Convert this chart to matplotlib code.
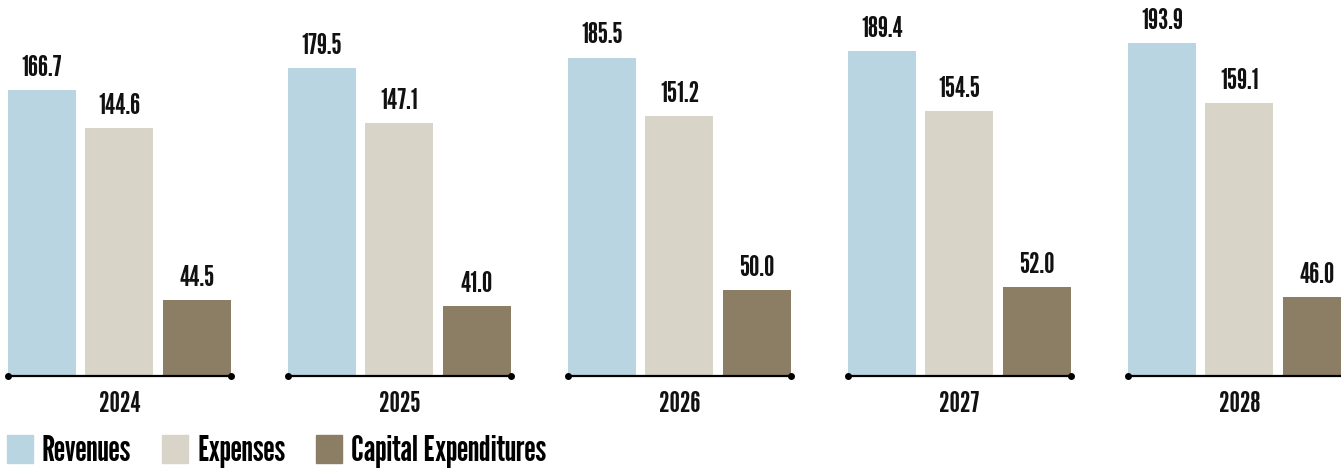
import numpy as np
import matplotlib
matplotlib.use('Agg')
import matplotlib.pyplot as plt
import matplotlib.patches as mpatches

plt.rcParams['font.family'] = ['League Gothic', 'DejaVu Sans']

# Budget figures ($ millions) by year
years = ['2024', '2025', '2026', '2027', '2028']
revenues = [166.7, 179.5, 185.5, 189.4, 193.9]
expenses = [144.6, 147.1, 151.2, 154.5, 159.1]
capex = [44.5, 41.0, 50.0, 52.0, 46.0]
series_names = ['Revenues', 'Expenses', 'Capital Expenditures']
colors = ['#b9d5e2', '#d8d4c8', '#8b7e64']

fig = plt.figure(figsize=(13.41, 4.72), dpi=100)
ax = fig.add_axes([0, 0, 1, 1])
ax.set_xlim(0, 1341)
ax.set_ylim(-55.9, 219.0)
ax.axis('off')

group_step = 280
bar_step = 77.5
bar_w = 68
x0 = 8

for g, yr in enumerate(years):
    left = x0 + g * group_step
    vals = [revenues[g], expenses[g], capex[g]]
    for k, v in enumerate(vals):
        xl = left + k * bar_step
        ax.bar(xl, v, width=bar_w, align='edge', color=colors[k], zorder=2)
        ax.annotate(f'{v:.1f}', (xl + bar_w / 2, v), xytext=(0, 6.5),
                    textcoords='offset points', ha='center', va='bottom',
                    fontsize=21, color='#111111')
    right = left + 2 * bar_step + bar_w
    ax.plot([left, right], [0, 0], color='black', lw=1.6, zorder=3,
            marker='o', markersize=4, solid_capstyle='butt', clip_on=False)
    ax.annotate(yr, ((left + right) / 2, 0), xytext=(0, -11),
                textcoords='offset points', ha='center', va='top',
                fontsize=21, color='#111111')

leg = fig.legend([mpatches.Patch(color=c) for c in colors], series_names,
                 loc='lower left', bbox_to_anchor=(0.005, 0.008), ncol=3,
                 frameon=False, fontsize=26, handlelength=0.72, handleheight=0.83,
                 handletextpad=0.25, columnspacing=0.86, borderaxespad=0.0,
                 borderpad=0.0)

fig.savefig('out.png', dpi=100)
